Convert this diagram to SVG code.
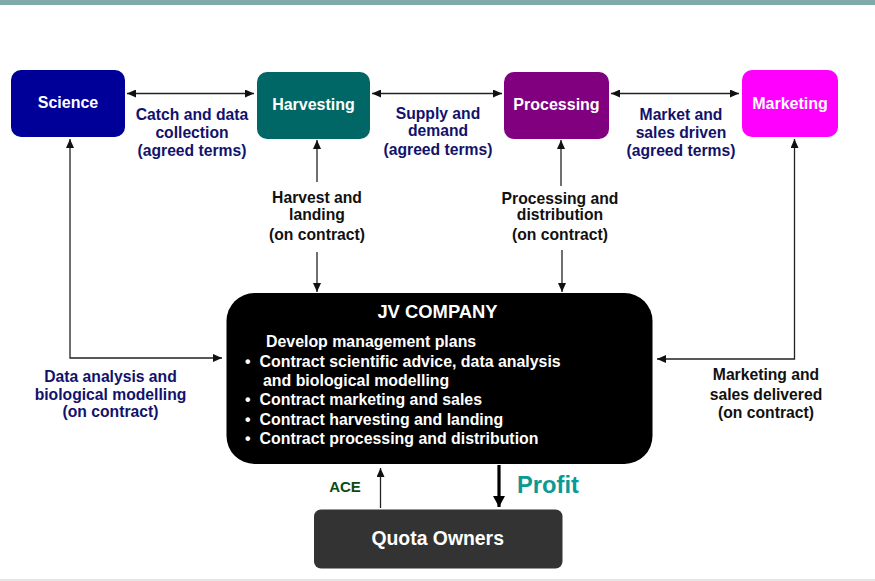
<svg xmlns="http://www.w3.org/2000/svg" width="875" height="581" viewBox="0 0 875 581">
<defs>
<style>
text{font-family:"Liberation Sans",Arial,sans-serif;font-weight:bold}
.nl{fill:#fff;font-size:16px;text-anchor:middle}
.nv{fill:#12126c;font-size:15.7px;text-anchor:middle}
.bk{fill:#111;font-size:15.7px;text-anchor:middle}
.jv{fill:#fff;font-size:15.9px}
.ln{stroke:#222;stroke-width:1.3;fill:none}
</style>
<marker id="ah" markerUnits="userSpaceOnUse" markerWidth="10" markerHeight="8" refX="9" refY="4" orient="auto-start-reverse">
<path d="M0,0 L9,4 L0,8 Z" fill="#111"/>
</marker>
<marker id="ahb" markerUnits="userSpaceOnUse" markerWidth="12" markerHeight="12" refX="11" refY="6" orient="auto">
<path d="M0,0 L11,6 L0,12 Z" fill="#000"/>
</marker>
</defs>
<rect x="0" y="0" width="875" height="5" fill="#80a9a9"/>
<rect x="0" y="579" width="875" height="2" fill="#e6e6e6"/>

<g id="connectors">
<line class="ln" x1="127" y1="93.5" x2="254" y2="93.5" marker-start="url(#ah)" marker-end="url(#ah)"/>
<line class="ln" x1="372" y1="93.5" x2="502" y2="93.5" marker-start="url(#ah)" marker-end="url(#ah)"/>
<line class="ln" x1="611" y1="93.5" x2="739" y2="93.5" marker-start="url(#ah)" marker-end="url(#ah)"/>
<polyline class="ln" points="222,358 70,358 70,139" marker-start="url(#ah)" marker-end="url(#ah)"/>
<polyline class="ln" points="657,359 794.5,359 794.5,139" marker-start="url(#ah)" marker-end="url(#ah)"/>
<line class="ln" x1="317" y1="182" x2="317" y2="140" marker-end="url(#ah)"/>
<line class="ln" x1="561" y1="186" x2="561" y2="140" marker-end="url(#ah)"/>
<line class="ln" x1="317" y1="252" x2="317" y2="292" marker-end="url(#ah)"/>
<line class="ln" x1="562" y1="250" x2="562" y2="292" marker-end="url(#ah)"/>
<line class="ln" x1="380.5" y1="508" x2="380.5" y2="468" marker-end="url(#ah)"/>
<line x1="499" y1="465" x2="499" y2="507" stroke="#000" stroke-width="3.2" marker-end="url(#ahb)"/>
<text class="nv" x="192" y="120">Catch and data</text>
<text class="nv" x="192" y="138">collection</text>
<text class="nv" x="192" y="155.5">(agreed terms)</text>
<text class="nv" x="438" y="118.5">Supply and</text>
<text class="nv" x="438" y="136">demand</text>
<text class="nv" x="438" y="154.5">(agreed terms)</text>
<text class="nv" x="681" y="119.5">Market and</text>
<text class="nv" x="681" y="137.5">sales driven</text>
<text class="nv" x="681" y="155.5">(agreed terms)</text>
<text class="bk" x="317" y="203">Harvest and</text>
<text class="bk" x="317" y="220">landing</text>
<text class="bk" x="317" y="239.5">(on contract)</text>
<text class="bk" x="560" y="203.5">Processing and</text>
<text class="bk" x="560" y="220">distribution</text>
<text class="bk" x="560" y="240">(on contract)</text>
<text class="nv" x="110.5" y="382">Data analysis and</text>
<text class="nv" x="110.5" y="399.5">biological modelling</text>
<text class="nv" x="110.5" y="417">(on contract)</text>
<text class="bk" x="766" y="380">Marketing and</text>
<text class="bk" x="766" y="400">sales delivered</text>
<text class="bk" x="766" y="418">(on contract)</text>
<text x="345" y="492" fill="#0b4a12" font-size="15px" text-anchor="middle">ACE</text>
<text x="548" y="493" fill="#0a9a96" font-size="23.7px" text-anchor="middle">Profit</text>
</g>

<g id="science">
<rect x="11" y="70" width="114" height="67" rx="10" fill="#000099"/>
<text class="nl" x="68" y="108">Science</text>
</g>
<g id="harvesting">
<rect x="257" y="72" width="113" height="67" rx="10" fill="#006666"/>
<text class="nl" x="313.5" y="109.5">Harvesting</text>
</g>
<g id="processing">
<rect x="504" y="72" width="105" height="67" rx="10" fill="#800080"/>
<text class="nl" x="556.5" y="110">Processing</text>
</g>
<g id="marketing">
<rect x="742" y="70" width="96" height="67" rx="10" fill="#ff00ff"/>
<text class="nl" x="790" y="108.5">Marketing</text>
</g>
<g id="jv-company">
<rect x="226.5" y="293" width="426" height="171" rx="28" fill="#000"/>
<text x="437.5" y="318" fill="#fff" font-size="18.4px" text-anchor="middle">JV COMPANY</text>
<text class="jv" x="266" y="347">Develop management plans</text>
<text class="jv" x="245" y="367">•</text>
<text class="jv" x="259.5" y="367">Contract scientific advice, data analysis</text>
<text class="jv" x="263" y="386">and biological modelling</text>
<text class="jv" x="245" y="405">•</text>
<text class="jv" x="259.5" y="405">Contract marketing and sales</text>
<text class="jv" x="245" y="425">•</text>
<text class="jv" x="259.5" y="425">Contract harvesting and landing</text>
<text class="jv" x="245" y="444">•</text>
<text class="jv" x="259.5" y="444">Contract processing and distribution</text>
</g>
<g id="quota-owners">
<rect x="314" y="509.5" width="248.5" height="59" rx="7" fill="#333333"/>
<text x="437.7" y="544.5" fill="#fff" font-size="19.4px" text-anchor="middle">Quota Owners</text>
</g>
</svg>
